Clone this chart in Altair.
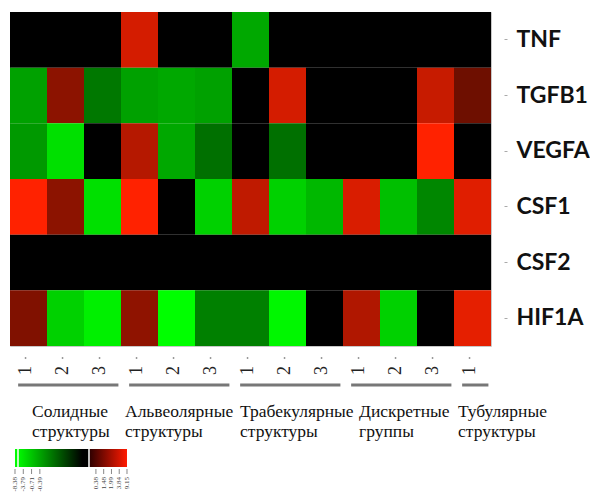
import altair as alt
import pandas as pd

# ---------------- data ----------------
genes = ["TNF", "TGFB1", "VEGFA", "CSF1", "CSF2", "HIF1A"]
group_names = ["Солидные\nструктуры", "Альвеолярные\nструктуры", "Трабекулярные\nструктуры",
               "Дискретные\nгруппы", "Тубулярные\nструктуры"]
group_sizes = [3, 3, 3, 3, 1]

# relative expression (negative = green, positive = red), one value per column
tnf   = [0, 0, 0, 0.83, 0, 0, -0.66, 0, 0, 0, 0, 0, 0]
tgfb1 = [-0.63, 0.55, -0.47, -0.63, -0.66, -0.63, 0, 0.83, 0, 0, 0, 0.78, 0.43]
vegfa = [-0.60, -0.88, 0, 0.71, -0.66, -0.44, 0, -0.44, 0, 0, 0, 1.0, 0]
csf1  = [1.0, 0.55, -0.88, 1.0, 0, -0.82, 0.75, -0.82, -0.72, 0.85, -0.75, -0.53, 0.88]
csf2  = [0, 0, 0, 0, 0, 0, 0, 0, 0, 0, 0, 0, 0]
hif1a = [0.50, -0.82, -0.94, 0.56, -1.0, -0.50, -0.50, -0.97, 0, 0.69, -0.82, 0, 0.90]

legend_neg = ["-8.38", "-3.79", "-0.71", "-0.39"]
legend_pos = ["0.38", "1.48", "1.99", "3.84", "9.15"]

SERIF = "'Times New Roman', 'Liberation Serif', 'DejaVu Serif', serif"

# ---------------- tables ----------------
rows = {"TNF": tnf, "TGFB1": tgfb1, "VEGFA": vegfa, "CSF1": csf1, "CSF2": csf2, "HIF1A": hif1a}
cols = []
for gi, n in enumerate(group_sizes):
    for k in range(n):
        cols.append((gi, k + 1))
col_ids = [f"g{gi}s{k}" for gi, k in cols]
ncol = len(col_ids)

heat = pd.DataFrame([
    {"gene": g, "col": col_ids[j], "value": rows[g][j]}
    for g in genes for j in range(ncol)
])

color_scale = alt.Scale(domain=[-1, 0, 1], range=["#00ff00", "#000000", "#ff2200"],
                        interpolate="rgb")

heatmap = alt.Chart(heat).mark_rect().encode(
    x=alt.X("col:N", sort=col_ids, axis=None),
    y=alt.Y("gene:N", sort=genes, axis=alt.Axis(
        orient="right", title=None, domain=False, tickSize=3, tickColor="#aaaaaa",
        offset=13, labelPadding=9, labelFont="Lato", labelFontSize=23,
        labelFontWeight="bold", labelColor="#111111")),
    color=alt.Color("value:Q", scale=color_scale, legend=None),
).properties(width=481, height=334, view=alt.ViewBackground(stroke="#c8c8c8"))

# ---------------- lower panel ----------------
xs = alt.Scale(domain=[0, ncol], nice=False, zero=False)

col_df = pd.DataFrame({"pos": [j + 0.42 for j in range(ncol)],
                       "label": [str(k) for _, k in cols]})

dots = alt.Chart(col_df).mark_rule(color="#999999", strokeWidth=1.5).encode(
    x=alt.X("pos:Q", scale=xs, axis=None), y=alt.value(10), y2=alt.value(12))

nums = alt.Chart(col_df).mark_text(
    angle=270, align="right", baseline="middle", font=SERIF,
    fontSize=18, color="#222222").encode(
    x=alt.X("pos:Q", scale=xs, axis=None), y=alt.value(19), text="label:N")

label_dx = [22, 4, 8, 16, 4]  # px offsets of group captions
starts, s = [], 0
for n in group_sizes:
    starts.append(s)
    s += n
grp_df = pd.DataFrame({
    "name": group_names,
    "x0": [st + 0.22 for st in starts],
    "x1": [st + n - 0.07 for st, n in zip(starts, group_sizes)],
    "tx": [st + dx / 37.0 for st, dx in zip(starts, label_dx)],
})

glines = alt.Chart(grp_df).mark_rule(color="#777777", strokeWidth=3).encode(
    x=alt.X("x0:Q", scale=xs, axis=None), x2="x1:Q", y=alt.value(38))

gtext = alt.Chart(grp_df).mark_text(
    align="left", baseline="alphabetic", font=SERIF, fontSize=17.5,
    lineBreak="\n", lineHeight=20, color="#111111").encode(
    x=alt.X("tx:Q", scale=xs, axis=None), y=alt.value(70), text="name:N")

# colour key
LEG_X0, LEG_X1, LEG_W0, LEG_SEP = 0.135, 3.162, 0.216, 2.135
leg_df = pd.DataFrame({"x0": [LEG_X0], "x1": [LEG_X1]})
grad = alt.Gradient(
    gradient="linear", x1=0, x2=1, y1=0, y2=0,
    stops=[alt.GradientStop(color="#00ff00", offset=0),
           alt.GradientStop(color="#00f000", offset=0.05),
           alt.GradientStop(color="#000000", offset=0.60),
           alt.GradientStop(color="#000000", offset=0.662),
           alt.GradientStop(color="#300000", offset=0.668),
           alt.GradientStop(color="#ff1a00", offset=1)])
legbar = alt.Chart(leg_df).mark_rect(color=grad).encode(
    x=alt.X("x0:Q", scale=xs, axis=None), x2="x1:Q", y=alt.value(102), y2=alt.value(120))

sep_df = pd.DataFrame({"x": [LEG_W0, LEG_SEP]})
seps = alt.Chart(sep_df).mark_rule(color="white", strokeWidth=1.5).encode(
    x=alt.X("x:Q", scale=xs, axis=None), y=alt.value(102), y2=alt.value(120))

tick_pos = [LEG_X0 + k * 0.224 for k in range(len(legend_neg))] + \
           [LEG_X1 - (len(legend_pos) - 1 - k) * 0.21 for k in range(len(legend_pos))]
tick_df = pd.DataFrame({"x": tick_pos, "label": legend_neg + legend_pos})
lticks = alt.Chart(tick_df).mark_rule(color="#888888", strokeWidth=1).encode(
    x=alt.X("x:Q", scale=xs, axis=None), y=alt.value(122), y2=alt.value(127))
llabels = alt.Chart(tick_df).mark_text(
    angle=270, align="right", baseline="middle", font=SERIF, fontSize=7,
    color="#444444").encode(
    x=alt.X("x:Q", scale=xs, axis=None), y=alt.value(130), text="label:N")

bottom = alt.layer(dots, nums, glines, gtext, legbar, seps, lticks, llabels).properties(
    width=481, height=145, view=alt.ViewBackground(strokeWidth=0))

chart = alt.vconcat(heatmap, bottom, spacing=0).properties(
    padding={"left": 1, "top": 3, "right": 0, "bottom": 0})

chart.save("out.html", embed_options={"renderer": "svg", "actions": False})
